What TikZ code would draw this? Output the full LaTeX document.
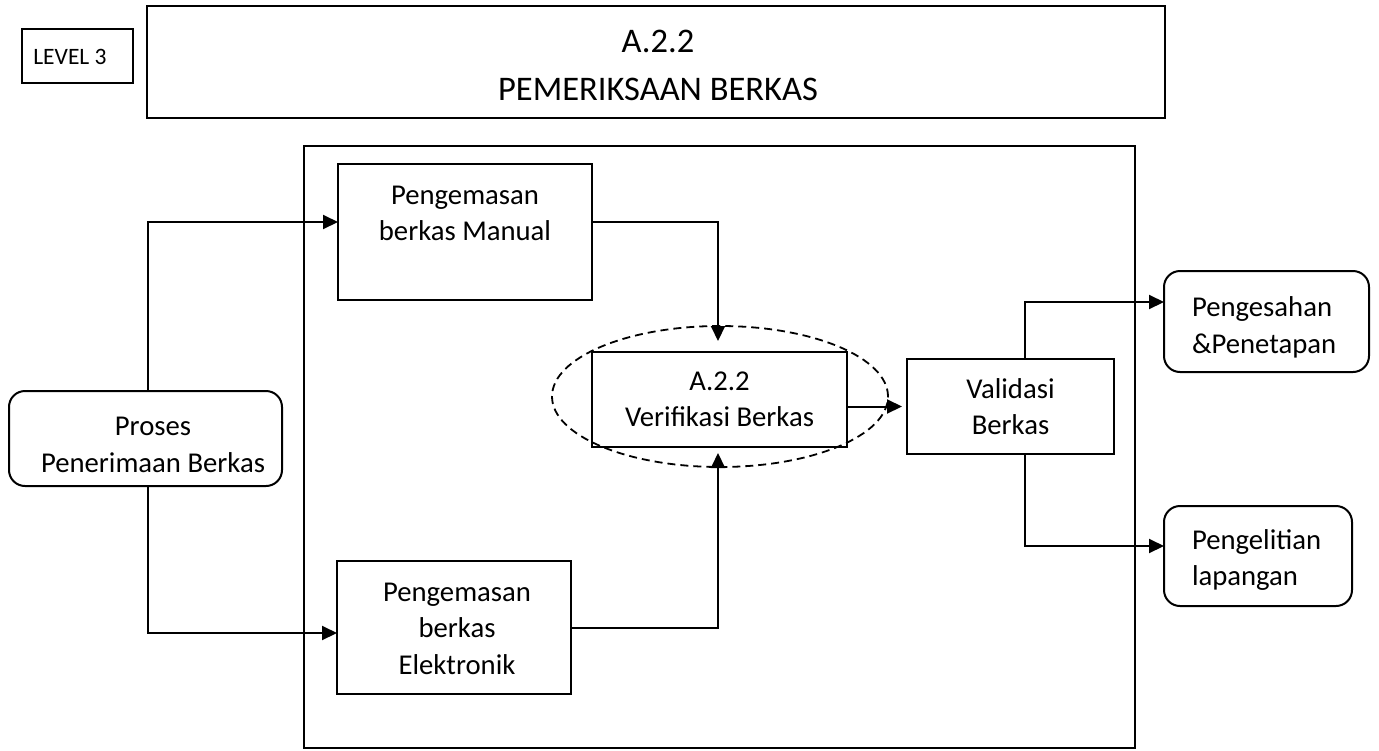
\documentclass[tikz,border=0pt]{standalone}
\usepackage{fontspec}
\setmainfont{Carlito}
\usetikzlibrary{arrows.meta,shapes.geometric,calc}

\newcommand\diagbody{\fontsize{28.7pt}{36.5pt}\selectfont}
\newcommand\diagtitle{\fontsize{34.5pt}{48pt}\selectfont}
\newcommand\diaglevel{\fontsize{23.5pt}{28pt}\selectfont}

\begin{document}
\begin{tikzpicture}[x=1pt,y=-1pt,
  every node/.style={inner sep=0pt, outer sep=0pt},
  lw/.style={line width=2pt},
  box/.style={draw, lw, rectangle, align=center, font=\diagbody},
  rbox/.style={box, rounded corners=16pt},
  txt/.style={align=center, font=\diagbody},
  ltxt/.style={align=left, font=\diagbody},
  arr/.style={lw, -{Triangle[length=15pt,width=14pt]}},
  oval/.style={draw, ellipse, line width=1.8pt, dash pattern=on 8pt off 5pt},
]
\useasboundingbox (0,0) rectangle (1379,750);

% header
\node[draw, lw, minimum width=111pt, minimum height=54pt] (level) at (77.5,56) {};
\node[font=\diaglevel] (leveltxt) at (70,57) {LEVEL 3};
\node[draw, lw, minimum width=1018pt, minimum height=112pt] (title) at (656,62) {};
\node[align=center, font=\diagtitle] (titletxt) at (658,65) {A.2.2\\PEMERIKSAAN BERKAS};

% process frame
\node[draw, lw, minimum width=831pt, minimum height=602pt] (frame) at (719.5,447) {};

% process boxes
\node[rbox, minimum width=273pt, minimum height=95pt] (proses) at (145.5,438.5) {};
\node[txt] (prosestxt) at (153,445) {Proses\\Penerimaan Berkas};
\node[box, minimum width=254pt, minimum height=136pt] (manual) at (465,232) {};
\node[txt] (manualtxt) at (465,213.5) {Pengemasan\\berkas Manual};
\node[box, minimum width=234pt, minimum height=133pt] (elek) at (454,627.5) {};
\node[txt] (elektxt) at (457,628.5) {Pengemasan\\berkas\\Elektronik};
\node[oval, minimum width=336pt, minimum height=141pt] (ring) at (720,396.5) {};
\node[box, minimum width=255pt, minimum height=95pt] (verif) at (719.5,399.5) {A.2.2\\Verifikasi Berkas};
\node[box, minimum width=207pt, minimum height=95pt] (valid) at (1010.5,406.5) {Validasi\\Berkas};
\node[rbox, minimum width=205pt, minimum height=101pt] (sah) at (1266.5,321.5) {};
\node[ltxt, anchor=west] (sahtxt) at (1192,327.5) {Pengesahan\\\&Penetapan};
\node[rbox, minimum width=188pt, minimum height=100pt] (teliti) at (1258,556) {};
\node[ltxt, anchor=west] (telititxt) at (1192,560) {Pengelitian\\lapangan};

% routing columns
\coordinate (colL) at (148,0);
\coordinate (colV) at (718,0);
\coordinate (colR) at (1025,0);
\coordinate (vTop) at ($(verif.north -| colV)+(0,-11)$);
\coordinate (vBot) at ($(verif.south -| colV)+(0,6)$);
\coordinate (vIn) at ($(valid.west)+(-5,0)$);

% connectors
\draw[arr] (proses.north -| colL) |- ([yshift=10pt]manual.west);
\draw[arr] (proses.south -| colL) |- ([yshift=-5.5pt]elek.west);
\draw[arr] ([yshift=10pt]manual.east) -| (vTop);
\draw[arr] (elek.east) -| (vBot);
\draw[arr] ([yshift=-7pt]verif.east) -- (vIn);
\draw[arr] (valid.north -| colR) |- ([yshift=19.5pt]sah.west);
\draw[arr] (valid.south -| colR) |- ([yshift=10pt]teliti.west);
\end{tikzpicture}
\end{document}
